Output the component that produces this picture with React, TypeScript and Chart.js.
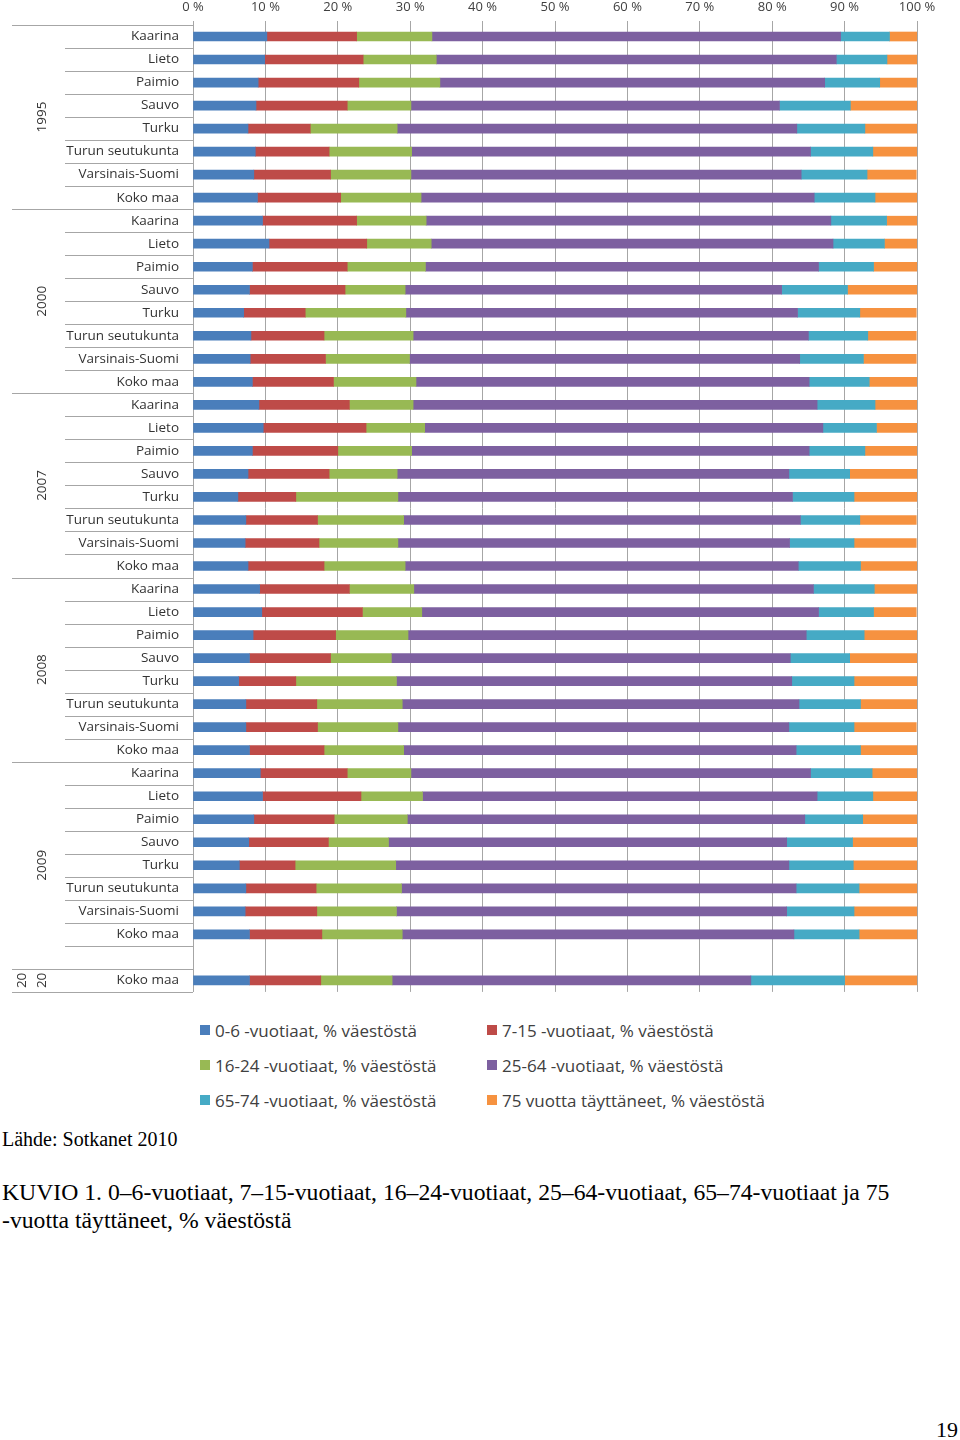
import React, { useEffect, useRef } from "react";
import Chart from "chart.js/auto";

const categories = [
  "Kaarina", "Lieto", "Paimio", "Sauvo", "Turku", "Turun seutukunta", "Varsinais-Suomi", "Koko maa",
  "Kaarina", "Lieto", "Paimio", "Sauvo", "Turku", "Turun seutukunta", "Varsinais-Suomi", "Koko maa",
  "Kaarina", "Lieto", "Paimio", "Sauvo", "Turku", "Turun seutukunta", "Varsinais-Suomi", "Koko maa",
  "Kaarina", "Lieto", "Paimio", "Sauvo", "Turku", "Turun seutukunta", "Varsinais-Suomi", "Koko maa",
  "Kaarina", "Lieto", "Paimio", "Sauvo", "Turku", "Turun seutukunta", "Varsinais-Suomi", "Koko maa", "",
  "Koko maa",
];

const groupLabels = [["1995"], ["2000"], ["2007"], ["2008"], ["2009"], ["20", "20"]];
const groupSizes = [8, 8, 8, 8, 9, 1];

const seriesNames = [
  "0-6 -vuotiaat, % väestöstä",
  "7-15 -vuotiaat, % väestöstä",
  "16-24 -vuotiaat, % väestöstä",
  "25-64 -vuotiaat, % väestöstä",
  "65-74 -vuotiaat, % väestöstä",
  "75 vuotta täyttäneet, % väestöstä",
];
const seriesColors = ["#4A7EBB", "#BE4B48", "#98B954", "#7D60A0", "#46AAC5", "#F69240"];

const age0to6 = [
  10.2, 9.9, 9.0, 8.7, 7.6, 8.6, 8.4, 8.9,
  9.6, 10.5, 8.2, 7.8, 7.0, 8.0, 7.9, 8.2,
  9.1, 9.7, 8.2, 7.6, 6.2, 7.3, 7.2, 7.6,
  9.2, 9.5, 8.3, 7.8, 6.3, 7.3, 7.3, 7.8,
  9.3, 9.6, 8.4, 7.7, 6.4, 7.3, 7.2, 7.8, null,
  7.8,
];
const age7to15 = [
  12.4, 13.6, 13.9, 12.6, 8.6, 10.2, 10.6, 11.5,
  13.0, 13.5, 13.1, 13.2, 8.5, 10.1, 10.4, 11.2,
  12.5, 14.2, 11.8, 11.2, 8.0, 9.9, 10.2, 10.5,
  12.4, 13.9, 11.4, 11.2, 7.9, 9.8, 9.9, 10.3,
  12.0, 13.6, 11.1, 11.0, 7.7, 9.7, 9.9, 10.0, null,
  9.85,
];
const age16to24 = [
  10.4, 10.1, 11.2, 8.8, 12.0, 11.4, 11.1, 11.1,
  9.6, 8.9, 10.8, 8.3, 13.9, 12.3, 11.6, 11.4,
  8.8, 8.1, 10.2, 9.4, 14.1, 11.9, 10.9, 11.2,
  8.9, 8.2, 10.0, 8.4, 13.9, 11.8, 11.1, 11.0,
  8.8, 8.5, 10.1, 8.3, 13.9, 11.8, 11.0, 11.1, null,
  9.85,
];
const age25to64 = [
  56.45, 55.25, 53.15, 50.9, 55.2, 55.1, 53.9, 54.3,
  55.9, 55.5, 54.3, 52.0, 54.1, 54.6, 53.9, 54.3,
  55.8, 55.0, 54.9, 54.1, 54.5, 54.8, 54.1, 54.3,
  55.2, 54.8, 55.0, 55.1, 54.6, 54.8, 54.0, 54.2,
  55.2, 54.5, 54.9, 55.0, 54.3, 54.5, 53.9, 54.1, null,
  49.55,
];
const age65to74 = [
  6.75, 7.0, 7.6, 9.8, 9.4, 8.6, 9.1, 8.4,
  7.7, 7.1, 7.6, 9.1, 8.6, 8.2, 8.8, 8.3,
  8.0, 7.4, 7.7, 8.4, 8.5, 8.2, 8.9, 8.6,
  8.4, 7.6, 8.0, 8.2, 8.6, 8.5, 9.0, 8.9,
  8.5, 7.7, 8.0, 9.1, 8.9, 8.7, 9.3, 9.0, null,
  12.95,
];
const age75plus = [
  3.8, 4.2, 5.1, 9.2, 7.2, 6.1, 6.8, 5.9,
  4.2, 4.5, 6.1, 9.6, 7.8, 6.7, 7.3, 6.6,
  5.9, 5.6, 7.2, 9.3, 8.7, 7.8, 8.6, 7.8,
  5.9, 5.9, 7.3, 9.3, 8.8, 7.8, 8.6, 7.8,
  6.2, 6.1, 7.5, 8.9, 8.8, 8.0, 8.8, 8.0, null,
  10.0,
];

const seriesData = [age0to6, age7to15, age16to24, age25to64, age65to74, age75plus];

const FONT = "'Open Sans', 'DejaVu Sans', sans-serif";
const SERIF = "'Liberation Serif', 'Times New Roman', serif";
const LINE = "#A6A6A6";

const groupPlugin = {
  id: "groupLabels",
  afterDraw(chart: any) {
    const { ctx, chartArea, scales } = chart;
    const y = scales.y;
    const n = categories.length;
    const step = n > 1 ? y.getPixelForValue(1) - y.getPixelForValue(0) : chartArea.bottom - chartArea.top;
    const boundary = (i: number) => (i < n ? y.getPixelForValue(i) - step / 2 : y.getPixelForValue(n - 1) + step / 2);
    const groupStarts: number[] = [];
    let acc = 0;
    groupSizes.forEach((s) => {
      groupStarts.push(acc);
      acc += s;
    });
    ctx.save();
    ctx.strokeStyle = LINE;
    ctx.lineWidth = 1;
    for (let i = 0; i <= n; i++) {
      const isGroup = i === n || groupStarts.includes(i);
      const yy = Math.round(boundary(i)) + 0.5;
      ctx.beginPath();
      ctx.moveTo(isGroup ? 12 : 65, yy);
      ctx.lineTo(chartArea.left, yy);
      ctx.stroke();
    }
    ctx.fillStyle = "#333333";
    ctx.font = `13.5px ${FONT}`;
    ctx.textAlign = "center";
    ctx.textBaseline = "middle";
    groupSizes.forEach((s, g) => {
      const top = boundary(groupStarts[g]);
      const bottom = boundary(groupStarts[g] + s);
      const cy = (top + bottom) / 2;
      const lines = groupLabels[g];
      lines.forEach((txt, k) => {
        const cx = 42 - (lines.length - 1 - k) * 20;
        ctx.save();
        ctx.translate(cx, cy);
        ctx.rotate(-Math.PI / 2);
        ctx.fillText(txt, 0, 0);
        ctx.restore();
      });
    });
    ctx.restore();
  },
};

export default function App() {
  const ref = useRef<HTMLCanvasElement>(null);
  useEffect(() => {
    document.body.style.margin = "0";
    const chart = new Chart(ref.current!, {
      type: "bar",
      data: {
        labels: categories,
        datasets: seriesData.map((d, i) => ({
          label: seriesNames[i],
          data: d as any,
          backgroundColor: seriesColors[i],
          borderWidth: 0,
          barThickness: 9,
        })),
      },
      options: {
        animation: false,
        responsive: false,
        indexAxis: "y",
        layout: { padding: { left: 0, right: 43, top: 0, bottom: 5 } },
        plugins: { legend: { display: false }, tooltip: { enabled: false } },
        scales: {
          x: {
            position: "top",
            stacked: true,
            min: 0,
            max: 100,
            ticks: {
              stepSize: 10,
              maxRotation: 0,
              padding: 6,
              color: "#404040",
              font: { family: FONT, size: 13 },
              callback: (v: any) => `${v} %`,
            },
            grid: { color: LINE, tickLength: 4, lineWidth: 1 },
            border: { display: false },
            afterFit: (s: any) => {
              s.height = 25;
            },
          },
          y: {
            stacked: true,
            grid: { display: false, drawTicks: false },
            border: { color: LINE },
            ticks: {
              autoSkip: false,
              padding: 14,
              color: "#333333",
              font: { family: FONT, size: 13.5 },
            },
            afterFit: (s: any) => {
              s.width = 193;
            },
          },
        },
      } as any,
      plugins: [groupPlugin],
    });
    return () => chart.destroy();
  }, []);

  const legendX = [200, 487];
  const legendY = [1031, 1066, 1101];

  return (
    <div style={{ position: "relative", width: 960, height: 1440, background: "#fff" }}>
      <canvas ref={ref} width={960} height={1014} style={{ position: "absolute", left: 0, top: 0 }} />
      {seriesNames.map((name, i) => (
        <div
          key={name}
          style={{
            position: "absolute",
            left: legendX[i % 2],
            top: legendY[Math.floor(i / 2)] - 13,
            height: 24,
            display: "flex",
            alignItems: "center",
            whiteSpace: "nowrap",
            fontFamily: FONT,
            fontSize: 17,
            color: "#404040",
          }}
        >
          <span style={{ display: "inline-block", width: 10, height: 10, background: seriesColors[i], marginRight: 5 }} />
          {name}
        </div>
      ))}
      <div
        style={{
          position: "absolute",
          left: 2,
          top: 1127,
          fontFamily: SERIF,
          fontSize: 20,
          lineHeight: "24px",
          whiteSpace: "nowrap",
          color: "#000",
        }}
      >
        Lähde: Sotkanet 2010
      </div>
      <div
        style={{
          position: "absolute",
          left: 2,
          top: 1178,
          fontFamily: SERIF,
          fontSize: 23.7,
          lineHeight: "28px",
          whiteSpace: "nowrap",
          color: "#000",
        }}
      >
        <div>KUVIO 1. 0–6-vuotiaat, 7–15-vuotiaat, 16–24-vuotiaat, 25–64-vuotiaat, 65–74-vuotiaat ja 75</div>
        <div>-vuotta täyttäneet, % väestöstä</div>
      </div>
      <div
        style={{
          position: "absolute",
          right: 2,
          top: 1416,
          fontFamily: SERIF,
          fontSize: 22,
          lineHeight: "28px",
          color: "#000",
        }}
      >
        19
      </div>
    </div>
  );
}
